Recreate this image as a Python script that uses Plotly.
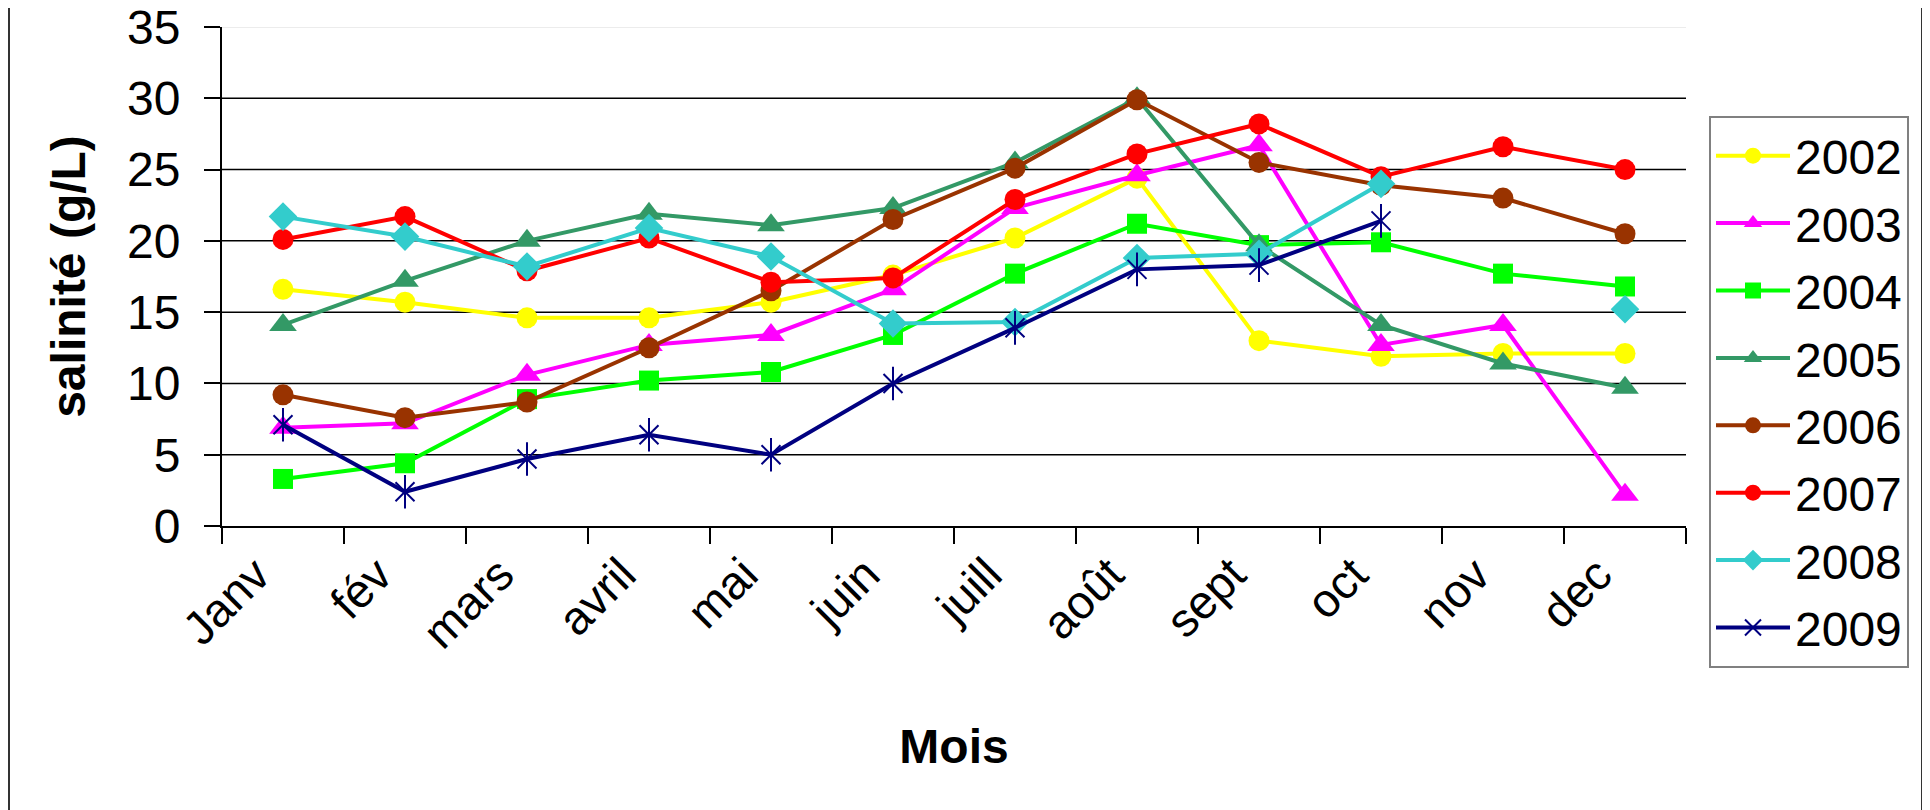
import plotly.graph_objects as go

months = ["Janv", "fév", "mars", "avril", "mai", "juin", "juill", "août", "sept", "oct", "nov", "dec"]

s2002 = [16.6, 15.7, 14.6, 14.6, 15.7, 17.6, 20.2, 24.4, 13.0, 11.9, 12.1, 12.1]
s2003 = [6.9, 7.2, 10.6, 12.7, 13.4, 16.6, 22.3, 24.6, 26.7, 12.7, 14.1, 2.2]
s2004 = [3.3, 4.4, 8.9, 10.2, 10.8, 13.4, 17.7, 21.2, 19.7, 19.9, 17.7, 16.8]
s2005 = [14.1, 17.2, 20.0, 21.9, 21.1, 22.3, 25.5, 30.0, 19.7, 14.1, 11.4, 9.7]
s2006 = [9.2, 7.6, 8.7, 12.5, 16.5, 21.5, 25.1, 29.9, 25.5, 23.9, 23.0, 20.5]
s2007 = [20.1, 21.7, 17.9, 20.2, 17.1, 17.4, 22.9, 26.1, 28.2, 24.5, 26.6, 25.0]
s2008 = [21.7, 20.3, 18.2, 20.9, 18.9, 14.2, 14.3, 18.8, 19.1, 24.0, None, 15.2]
s2009 = [7.1, 2.4, 4.7, 6.4, 5.0, 10.0, 13.9, 18.0, 18.3, 21.4, None, None]

y_ticks = [0, 5, 10, 15, 20, 25, 30, 35]

FONT = "Liberation Sans, Arial, sans-serif"

series = [
    ("2002", s2002, "#FFFF00", "circle", 21),
    ("2003", s2003, "#FF00FF", "triangle-up", 24),
    ("2004", s2004, "#00FF00", "square", 20),
    ("2005", s2005, "#339966", "triangle-up", 24),
    ("2006", s2006, "#993300", "circle", 21),
    ("2007", s2007, "#FF0000", "circle", 21),
    ("2008", s2008, "#33CCCC", "diamond", 22),
]

fig = go.Figure()
for name, vals, col, sym, sz in series:
    fig.add_trace(go.Scatter(
        x=months, y=vals, name=name, mode="lines+markers",
        legendgroup=name,
        line=dict(color=col, width=4),
        marker=dict(symbol=sym, size=sz, color=col, line=dict(width=0)),
    ))

# 2009 : six-armed asterisk built from two marker layers
fig.add_trace(go.Scatter(
    x=months, y=s2009, name="2009", mode="lines+markers", legendgroup="2009",
    line=dict(color="#000080", width=4),
    marker=dict(symbol="x-thin-open", size=19, color="#000080", line=dict(color="#000080", width=2)),
))
fig.add_trace(go.Scatter(
    x=months, y=s2009, name="2009", mode="markers", legendgroup="2009", showlegend=False,
    marker=dict(symbol="line-ns-open", size=24, color="#000080", line=dict(color="#000080", width=2)),
))

# page is offset by the 8 px body margin: work in figure pixels
OFF = 8
W, H = 1930 - OFF, 810 - OFF
L = 222 - OFF
T = 27 - OFF
R = W - (1686 - OFF)
B = H - (526 - OFF)
pw, ph = W - L - R, H - T - B

def px_x(x):
    return (x - OFF - L) / pw

def px_y(y):
    return (H - B - (y - OFF)) / ph

# horizontal gridlines
shapes = []
for v in y_ticks[1:]:
    shapes.append(dict(type="line", xref="paper", yref="y", x0=0, x1=1, y0=v, y1=v,
                       line=dict(color="#000000" if v < 35 else "#E6E6E6", width=1.5), layer="below"))

# outer chart border (left / right)
shapes.append(dict(type="line", xref="paper", yref="paper", x0=px_x(9), x1=px_x(9), y0=px_y(0), y1=px_y(812),
                   line=dict(color="#333333", width=2)))
shapes.append(dict(type="line", xref="paper", yref="paper", x0=px_x(1922), x1=px_x(1922), y0=px_y(0), y1=px_y(812),
                   line=dict(color="#333333", width=2)))

fig.update_layout(
    width=W, height=H,
    margin=dict(l=L, r=R, t=T, b=B, autoexpand=False),
    paper_bgcolor="white", plot_bgcolor="white",
    font=dict(family=FONT, color="black"),
    shapes=shapes,
    showlegend=True,
    legend=dict(
        x=px_x(1709), y=px_y(116), xanchor="left", yanchor="top",
        font=dict(family=FONT, size=48, color="black"),
        bgcolor="white", bordercolor="#808080", borderwidth=2,
        traceorder="grouped", tracegroupgap=2, itemwidth=74,
        maxheight=700,
    ),
    xaxis=dict(
        type="category", range=[-0.5, 11.5],
        showline=True, linecolor="black", linewidth=2,
        ticks="outside", ticklen=16, tickwidth=1.5, tickcolor="black",
        tickson="boundaries", showgrid=False, zeroline=False,
        tickangle=-45, tickfont=dict(family=FONT, size=47, color="black"),
        ticklabelshift=-27, ticklabeloverflow="allow",
        title=dict(text="<b>Mois</b>", font=dict(family=FONT, size=48, color="black"), standoff=72),
    ),
    yaxis=dict(
        range=[0, 35], tickvals=y_ticks, ticktext=[str(v) for v in y_ticks],
        showline=True, linecolor="black", linewidth=2,
        ticks="outside", ticklen=16, tickwidth=1.5, tickcolor="black",
        showgrid=False, zeroline=False,
        ticklabelstandoff=14, ticklabeloverflow="allow",
        tickfont=dict(family=FONT, size=48, color="black"),
        title=dict(text="<b>salinité (g/L)</b>", font=dict(family=FONT, size=48, color="black"), standoff=26),
    ),
)

fig.write_html("out.html")
